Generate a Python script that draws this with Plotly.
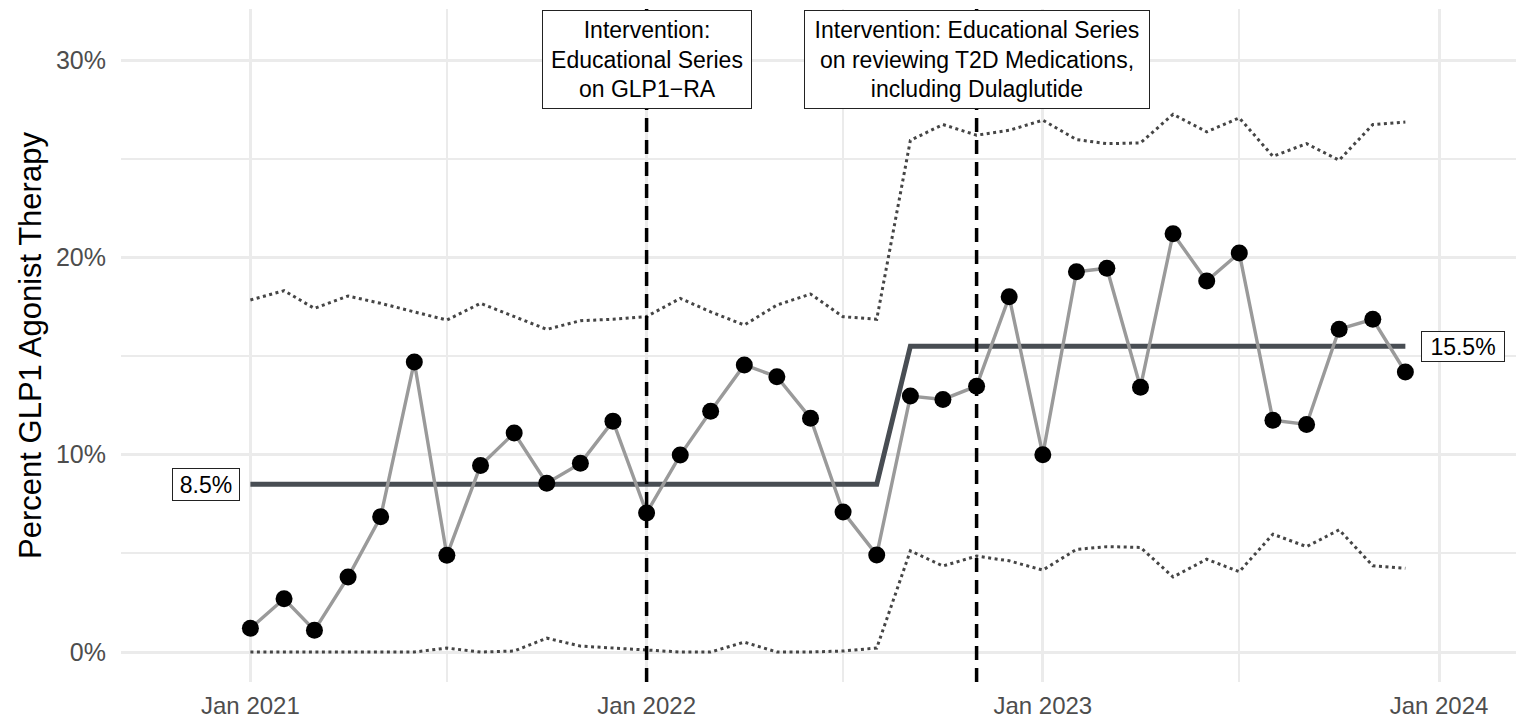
import plotly.graph_objects as go
import pandas as pd

months = pd.date_range("2021-01-01", "2023-12-01", freq="MS")

pct_glp1 = [1.2, 2.7, 1.1, 3.8, 6.85, 14.7, 4.9, 9.45, 11.1, 8.55, 9.56, 11.7,
            7.05, 9.98, 12.2, 14.55, 13.95, 11.85, 7.1, 4.92, 12.97, 12.8, 13.47, 18.0,
            10.0, 19.27, 19.45, 13.42, 21.2, 18.8, 20.22, 11.75, 11.53, 16.36, 16.86, 14.19]

center_line = [8.5] * 20 + [15.5] * 16

upper_limit = [17.84, 18.31, 17.41, 18.04, 17.67, 17.24, 16.82, 17.67, 16.99, 16.35, 16.79, 16.86,
               17.0, 17.92, 17.24, 16.57, 17.58, 18.14, 16.99, 16.86, 25.93, 26.73, 26.19, 26.44,
               26.95, 25.97, 25.76, 25.8, 27.25, 26.36, 27.07, 25.12, 25.76, 24.92, 26.73, 26.86]

lower_limit = [0.0, 0.0, 0.0, 0.0, 0.0, 0.0, 0.2, 0.0, 0.05, 0.7, 0.3, 0.2,
               0.1, 0.0, 0.0, 0.5, 0.0, 0.0, 0.05, 0.2, 5.13, 4.36, 4.86, 4.62,
               4.15, 5.2, 5.34, 5.3, 3.8, 4.7, 4.07, 5.97, 5.34, 6.19, 4.37, 4.24]

intervention_dates = ["2022-01-01", "2022-11-01"]
intervention_labels = ["Intervention:<br>Educational Series<br>on GLP1\u2212RA",
                       "Intervention: Educational Series<br>on reviewing T2D Medications,<br>including Dulaglutide"]
intervention_box_widths = [200, 336]

y_tick_vals = [0, 10, 20, 30]
y_tick_text = ["0%", "10%", "20%", "30%"]

FONT = "Liberation Sans, Arial, sans-serif"

fig = go.Figure()

fig.add_trace(go.Scatter(x=months, y=upper_limit, mode="lines",
                         line=dict(color="#454545", width=3, dash="3px,3.5px"), hoverinfo="skip"))
fig.add_trace(go.Scatter(x=months, y=lower_limit, mode="lines",
                         line=dict(color="#454545", width=3, dash="3px,3.5px"), hoverinfo="skip"))
fig.add_trace(go.Scatter(x=months, y=center_line, mode="lines",
                         line=dict(color="#484D53", width=5)))
fig.add_trace(go.Scatter(x=months, y=pct_glp1, mode="lines+markers",
                         line=dict(color="#9A9A9A", width=3.4),
                         marker=dict(color="black", size=17)))

for d in intervention_dates:
    fig.add_shape(type="line", x0=d, x1=d, xref="x", yref="paper", y0=0, y1=1,
                  line=dict(color="black", width=3.5, dash="14px,8px"))

for d, t, w in zip(intervention_dates, intervention_labels, intervention_box_widths):
    fig.add_annotation(x=d, xref="x", y=1, yref="paper", yanchor="top", yshift=-1,
                       text=t, showarrow=False, align="center",
                       width=w, height=89,
                       font=dict(family=FONT, size=23, color="black"),
                       bgcolor="white", bordercolor="#222222", borderwidth=1, borderpad=4)

fig.add_annotation(x=months[0], y=center_line[0], xanchor="right", xshift=-10,
                   text="8.5%", showarrow=False, width=62, height=27,
                   font=dict(family=FONT, size=23, color="black"),
                   bgcolor="white", bordercolor="#222222", borderwidth=1, borderpad=2)
fig.add_annotation(x=months[-1], y=center_line[-1], xanchor="left", xshift=16,
                   text="15.5%", showarrow=False, width=78, height=25,
                   font=dict(family=FONT, size=23, color="black"),
                   bgcolor="white", bordercolor="#222222", borderwidth=1, borderpad=2)

fig.update_layout(
    width=1516, height=712,
    margin=dict(l=113, r=0, t=1, b=38),
    plot_bgcolor="white", paper_bgcolor="white",
    showlegend=False,
    font=dict(family=FONT),
    xaxis=dict(
        type="date", automargin=False,
        range=["2020-09-03 19:00", "2024-03-19 07:00"],
        tick0="2021-01-01", dtick="M12", tickformat="%b %Y",
        showgrid=True, gridcolor="#EBEBEB", gridwidth=3,
        minor=dict(dtick="M6", tick0="2021-01-01", showgrid=True, gridcolor="#EBEBEB", gridwidth=1.5),
        zeroline=False, showline=False, ticks="",
        tickfont=dict(family=FONT, size=24, color="#4D4D4D"),
        ticklabelstandoff=7,
    ),
    yaxis=dict(
        automargin=False,
        range=[-1.52, 32.585],
        tickvals=y_tick_vals, ticktext=y_tick_text,
        showgrid=True, gridcolor="#EBEBEB", gridwidth=3,
        minor=dict(tickvals=[5, 15, 25], showgrid=True, gridcolor="#EBEBEB", gridwidth=1.5),
        zeroline=False, showline=False, ticks="",
        tickfont=dict(family=FONT, size=25, color="#4D4D4D"),
        ticklabelstandoff=14,
        title=dict(text="Percent GLP1 Agonist Therapy", standoff=5,
                   font=dict(family=FONT, size=31, color="black")),
    ),
)

fig.write_html("out.html")
